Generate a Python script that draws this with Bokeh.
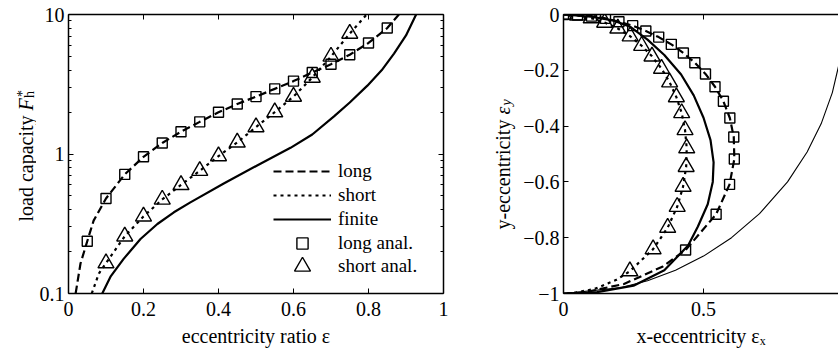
from math import pi
from bokeh.plotting import figure
from bokeh.layouts import row
from bokeh.models import (FixedTicker, CustomJSTickFormatter, LinearAxis, LogAxis,
                          Label, Legend, LegendItem, Range1d)
from bokeh.embed import file_html
from bokeh.resources import INLINE

FONT = "Liberation Serif"
TICK_FS = "20px"
LAB_FS = "20px"
SUB_FS = "14px"

# ---------------- left panel: load capacity vs eccentricity ratio ----------------
eps_long_curve = [0.019, 0.032, 0.05, 0.067, 0.10, 0.15, 0.20, 0.25, 0.30, 0.35, 0.40, 0.45,
                  0.50, 0.55, 0.60, 0.65, 0.70, 0.75, 0.80, 0.85, 0.881]
F_long_curve = [0.10, 0.164, 0.237, 0.333, 0.48, 0.714, 0.955, 1.20, 1.445, 1.70, 1.99, 2.28,
                2.58, 2.93, 3.33, 3.84, 4.40, 5.15, 6.25, 8.0, 10.0]

eps_short_curve = [0.062, 0.081, 0.10, 0.15, 0.20, 0.25, 0.30, 0.35, 0.40, 0.45, 0.50,
                   0.55, 0.60, 0.65, 0.70, 0.75, 0.795]
F_short_curve = [0.10, 0.139, 0.165, 0.257, 0.357, 0.472, 0.600, 0.758, 0.966, 1.21, 1.56,
                 1.995, 2.58, 3.53, 5.0, 7.3, 10.0]

eps_finite = [0.09, 0.112, 0.147, 0.192, 0.237, 0.281, 0.325, 0.414, 0.503, 0.592, 0.65,
              0.708, 0.75, 0.797, 0.835, 0.868, 0.90, 0.927]
F_finite = [0.10, 0.132, 0.177, 0.246, 0.315, 0.382, 0.45, 0.614, 0.828, 1.107, 1.38,
            1.86, 2.34, 3.09, 3.98, 5.25, 7.08, 10.0]

eps_long_anal = [0.05, 0.10, 0.15, 0.20, 0.25, 0.30, 0.35, 0.40, 0.45, 0.50, 0.55,
                 0.60, 0.65, 0.70, 0.75, 0.80, 0.85]
F_long_anal = [0.237, 0.48, 0.714, 0.955, 1.20, 1.445, 1.70, 1.99, 2.28, 2.58, 2.93,
               3.33, 3.84, 4.40, 5.15, 6.25, 8.0]

eps_short_anal = [0.10, 0.15, 0.20, 0.25, 0.30, 0.35, 0.40, 0.45, 0.50, 0.55, 0.60,
                  0.65, 0.70, 0.75]
F_short_anal = [0.165, 0.257, 0.357, 0.472, 0.600, 0.758, 0.966, 1.21, 1.56, 1.995, 2.58,
                3.53, 5.0, 7.3]

x_ticks_left = [0, 0.2, 0.4, 0.6, 0.8, 1]
y_ticks_left = [0.1, 1, 10]
y_minor_left = [0.2, 0.3, 0.4, 0.5, 0.6, 0.7, 0.8, 0.9, 2, 3, 4, 5, 6, 7, 8, 9]

# ---------------- right panel: journal centre locus ----------------
ex_long_anal = [0, 0.05, 0.10, 0.15, 0.198, 0.247, 0.294, 0.34, 0.385, 0.428, 0.469,
                0.507, 0.541, 0.571, 0.594, 0.608, 0.61, 0.593, 0.545, 0.436]
ey_long_anal = [0, -0.002, -0.006, -0.014, -0.026, -0.04, -0.059, -0.081, -0.107, -0.138,
                -0.173, -0.213, -0.259, -0.311, -0.371, -0.439, -0.518, -0.609, -0.716, -0.844]
ex_long_tail = [0.355, 0.216, 0.07, 0.0]
ey_long_tail = [-0.903, -0.966, -0.997, -1.0]

ex_short_anal = [0, 0.05, 0.099, 0.147, 0.194, 0.238, 0.279, 0.316, 0.35, 0.379, 0.403,
                 0.422, 0.434, 0.44, 0.438, 0.427, 0.406, 0.372, 0.32, 0.237]
ey_short_anal = [0, -0.003, -0.013, -0.029, -0.05, -0.078, -0.112, -0.15, -0.194, -0.243,
                 -0.296, -0.353, -0.414, -0.479, -0.546, -0.617, -0.689, -0.764, -0.841, -0.92]
ex_short_tail = [0.187, 0.11, 0.035, 0.0]
ey_short_tail = [-0.952, -0.984, -0.998, -1.0]

ex_finite = [0, 0.10, 0.18, 0.24, 0.30, 0.36, 0.42, 0.465, 0.50, 0.525, 0.536, 0.533,
             0.515, 0.48, 0.445, 0.36, 0.25, 0.12, 0.04, 0.0]
ey_finite = [0, -0.008, -0.022, -0.045, -0.09, -0.145, -0.215, -0.29, -0.37, -0.45, -0.53,
             -0.60, -0.68, -0.76, -0.828, -0.917, -0.972, -0.995, -1.0, -1.0]

ex_bound = [0, 0.2, 0.3, 0.4, 0.5, 0.6, 0.7, 0.8, 0.87, 0.92, 0.96, 0.985, 1.0]
ey_bound = [-1, -0.98, -0.954, -0.917, -0.866, -0.8, -0.714, -0.6, -0.493, -0.392, -0.28,
            -0.173, 0.0]

x_ticks_right = [0, 0.5, 1]
y_ticks_right = [-1, -0.8, -0.6, -0.4, -0.2, 0]

H = 349
FRAME_BOTTOM = 294.5  # shared frame bottom of the row (from its top edge)


def style_axis(ax, show_labels=True, below=False):
    ax.axis_line_width = 1.5
    ax.axis_line_color = "black"
    ax.major_tick_in = 5
    ax.major_tick_out = 0
    ax.minor_tick_in = 3
    ax.minor_tick_out = 0
    ax.major_tick_line_color = "black"
    ax.minor_tick_line_color = "black"
    ax.major_label_text_font = FONT
    ax.major_label_text_font_size = TICK_FS
    ax.major_label_text_color = "black"
    ax.major_label_standoff = 8 if below else 4
    ax.axis_label_text_font = FONT
    ax.axis_label_text_font_size = LAB_FS
    ax.axis_label_text_font_style = "normal"
    ax.axis_label_text_color = "black"
    ax.axis_label_standoff = 6
    if not show_labels:
        ax.formatter = CustomJSTickFormatter(code="return ''")
        ax.major_label_text_font_size = "0px"
        ax.major_label_standoff = 0


def text_fig(w, h):
    f = figure(width=w, height=h, x_range=Range1d(0, 1), y_range=Range1d(0, 1),
               title=None, output_backend="svg", toolbar_location=None, min_border=0,
               x_axis_location=None, y_axis_location=None)
    f.outline_line_color = None
    f.grid.visible = False
    f.background_fill_color = "white"
    f.border_fill_color = "white"
    return f


num_fmt = CustomJSTickFormatter(code="""
if (Math.abs(tick) < 1e-9) return '0';
var a = Math.abs(tick);
var s = (Math.abs(a - Math.round(a)) < 1e-9) ? String(Math.round(a)) : a.toFixed(1);
return (tick < 0 ? '\u2212' : '') + s;
""")
log_fmt = CustomJSTickFormatter(code="return tick >= 1 ? String(Math.round(tick)) : tick.toFixed(1);")

lab_kw = dict(x_units="screen", y_units="screen", text_font=FONT, text_color="black",
              text_baseline="alphabetic", text_align="left")

# ---------------- left figure ----------------
p1 = figure(width=447, height=H, x_range=Range1d(0, 1), y_range=Range1d(0.1, 10),
            y_axis_type="log", output_backend="svg", toolbar_location=None, title=None,
            min_border_left=32, min_border_right=40, min_border_top=14,
            min_border_bottom=H - 295)
p1.outline_line_color = None
p1.grid.visible = False
p1.background_fill_color = "white"
p1.border_fill_color = "white"

p1.xaxis[0].ticker = FixedTicker(ticks=x_ticks_left)
p1.xaxis[0].formatter = num_fmt
style_axis(p1.xaxis[0], below=True)
p1.xaxis[0].axis_label = "eccentricity ratio ε"
p1.yaxis[0].ticker = FixedTicker(ticks=y_ticks_left, minor_ticks=y_minor_left)
p1.yaxis[0].formatter = log_fmt
style_axis(p1.yaxis[0])
top1 = LinearAxis(ticker=FixedTicker(ticks=x_ticks_left))
style_axis(top1, False)
p1.add_layout(top1, "above")
right1 = LogAxis(ticker=FixedTicker(ticks=y_ticks_left, minor_ticks=y_minor_left))
style_axis(right1, False)
p1.add_layout(right1, "right")

r_long = p1.line(eps_long_curve, F_long_curve, line_color="black", line_width=2.2,
                 line_dash="8 4")
r_short = p1.line(eps_short_curve, F_short_curve, line_color="black", line_width=2.2,
                  line_dash="3 4")
r_fin = p1.line(eps_finite, F_finite, line_color="black", line_width=2.2)
r_sq = p1.scatter(eps_long_anal, F_long_anal, marker="square", size=10, fill_color=None,
                  line_color="black", line_width=1.4)
r_tri = p1.scatter(eps_short_anal, F_short_anal, marker="triangle", size=16, fill_color=None,
                   line_color="black", line_width=1.4)

leg_kw = dict(orientation="vertical", glyph_width=58, label_height=20, label_standoff=7,
              spacing=0, padding=0, margin=0, border_line_color=None,
              background_fill_alpha=0, label_text_font=FONT, label_text_font_size="19px",
              label_text_color="black")
leg_lines = Legend(items=[LegendItem(label="long", renderers=[r_long]),
                          LegendItem(label="short", renderers=[r_short]),
                          LegendItem(label="finite", renderers=[r_fin])],
                   location=(205, 62), glyph_height=24, **leg_kw)
leg_sq = Legend(items=[LegendItem(label="long anal.", renderers=[r_sq])],
                location=(205, 36), glyph_height=28, **leg_kw)
leg_tri = Legend(items=[LegendItem(label="short anal.", renderers=[r_tri])],
                 location=(205, 7), glyph_height=40, **leg_kw)
p1.add_layout(leg_lines)
p1.add_layout(leg_sq)
p1.add_layout(leg_tri)

# ---------------- right figure ----------------
p2 = figure(width=322, height=H, x_range=Range1d(0, 0.982), y_range=Range1d(-1, 0),
            output_backend="svg", toolbar_location=None, title=None,
            min_border_left=47, min_border_right=0, min_border_top=14,
            min_border_bottom=H - 294)
p2.outline_line_color = None
p2.grid.visible = False
p2.background_fill_color = "white"
p2.border_fill_color = "white"

p2.xaxis[0].ticker = FixedTicker(ticks=x_ticks_right)
p2.xaxis[0].formatter = num_fmt
style_axis(p2.xaxis[0], below=True)
p2.xaxis[0].axis_label = "x-eccentricity εₓ"
p2.yaxis[0].ticker = FixedTicker(ticks=y_ticks_right)
p2.yaxis[0].formatter = num_fmt
style_axis(p2.yaxis[0])
top2 = LinearAxis(ticker=FixedTicker(ticks=x_ticks_right))
style_axis(top2, False)
p2.add_layout(top2, "above")

p2.line(ex_bound, ey_bound, line_color="black", line_width=1.1)
p2.line(ex_long_anal + ex_long_tail, ey_long_anal + ey_long_tail, line_color="black",
        line_width=2.2, line_dash="8 4")
p2.line(ex_short_anal + ex_short_tail, ey_short_anal + ey_short_tail, line_color="black",
        line_width=2.2, line_dash="3 4")
p2.line(ex_finite, ey_finite, line_color="black", line_width=2.2)
p2.scatter(ex_long_anal, ey_long_anal, marker="square", size=10, fill_color=None,
           line_color="black", line_width=1.4)
p2.scatter(ex_short_anal, ey_short_anal, marker="triangle", size=16, fill_color=None,
           line_color="black", line_width=1.4)

# ---------------- vertical axis titles (rich text pieces) ----------------
yl1 = text_fig(36, H)
yl1.add_layout(Label(x=25, y=FRAME_BOTTOM - 222.5, text="load capacity ", angle=pi / 2,
                     text_font_size=LAB_FS, **lab_kw))
yl1.add_layout(Label(x=25, y=FRAME_BOTTOM - 111.5, text="F", angle=pi / 2,
                     text_font_size=LAB_FS, text_font_style="italic", **lab_kw))
yl1.add_layout(Label(x=22, y=FRAME_BOTTOM - 98, text="*", angle=pi / 2,
                     text_font_size=SUB_FS, **lab_kw))
yl1.add_layout(Label(x=29, y=FRAME_BOTTOM - 99, text="h", angle=pi / 2,
                     text_font_size=SUB_FS, **lab_kw))

yl2 = text_fig(33, H)
yl2.add_layout(Label(x=19, y=FRAME_BOTTOM - 230.5, text="y-eccentricity ", angle=pi / 2,
                     text_font_size=LAB_FS, **lab_kw))
yl2.add_layout(Label(x=19, y=FRAME_BOTTOM - 115.5, text="ε", angle=pi / 2,
                     text_font_size=LAB_FS, text_font_style="italic", **lab_kw))
yl2.add_layout(Label(x=23, y=FRAME_BOTTOM - 106.5, text="y", angle=pi / 2,
                     text_font_size=SUB_FS, text_font_style="italic", **lab_kw))

layout = row(yl1, p1, yl2, p2)
open("out.html", "w").write(file_html(layout, INLINE))
